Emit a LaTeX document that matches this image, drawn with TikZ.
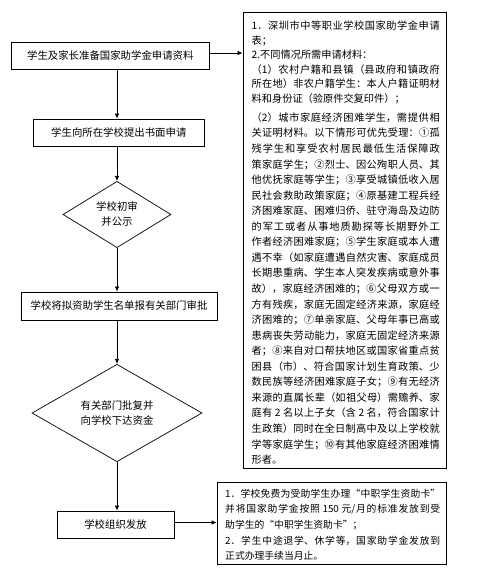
\documentclass[tikz,border=0pt]{standalone}
\usepackage{fontspec}
\setmainfont{Noto Sans CJK SC}
\usetikzlibrary{shapes.geometric,arrows.meta}
\XeTeXlinebreaklocale "zh"
\XeTeXlinebreakskip=0pt plus 2pt
\tikzset{
  box/.style={draw, line width=0.8pt, minimum height=27pt, inner sep=0pt, font=\fontsize{10.4}{14}\selectfont},
  dia/.style={draw, diamond, line width=0.7pt, inner sep=0pt, align=center, font=\fontsize{10.4}{15}\selectfont},
  arr/.style={line width=0.7pt, -{Latex[length=5pt,width=4.5pt]}},
  panel/.style={draw, line width=0.8pt, inner sep=0pt},
  para/.style={anchor=base west, inner sep=0pt, align=justify}
}
\begin{document}
\begin{tikzpicture}[x=1pt,y=-1pt]
\useasboundingbox (0,0) rectangle (480,580);
\coordinate (axis) at (117,0);
\coordinate (h1) at (0,53);
\coordinate (h2) at (0,522.5);
% left column
\node[box, minimum width=198pt] (b1) at (110.3,55.8) {学生及家长准备国家助学金申请资料};
\node[box, minimum width=171pt] (b2) at (118.8,132.5) {学生向所在学校提出书面申请};
\node[dia, minimum width=108pt, minimum height=61pt] (d1) at (117,214.5) {学校初审\\并公示};
\node[box, minimum width=196pt, minimum height=28pt] (b3) at (119,306) {学校将拟资助学生名单报有关部门审批};
\node[dia, minimum width=170pt, minimum height=70pt] (d2) at (117,413) {有关部门批复并\\向学校下达资金};
\node[box, minimum width=117pt] (b4) at (115.5,524.5) {学校组织发放};
% right panels
\node[panel, minimum width=203pt, minimum height=456pt] (r1) at (344.5,240) {};
\node[panel, minimum width=229pt, minimum height=82pt] (r2) at (331.5,523) {};
\node[para, text width=188pt, font=\fontsize{10.2}{14.6}\selectfont] (t1) at (251.5,29.5) {\parindent=0pt\tolerance=9999
1．深圳市中等职业学校国家助学金申请\linebreak 表；\par
2.不同情况所需申请材料：\par
（1）农村户籍和县镇（县政府和镇政府\linebreak 所在地）非农户籍学生：本人户籍证明材\linebreak 料和身份证（验原件交复印件）；\par
\vskip3.4pt\baselineskip=15.55pt
（2）城市家庭经济困难学生，需提供相\linebreak 关证明材料。以下情形可优先受理：①孤\linebreak 残学生和享受农村居民最低生活保障政\linebreak 策家庭学生；②烈士、因公殉职人员、其\linebreak 他优抚家庭等学生；③享受城镇低收入居\linebreak 民社会救助政策家庭；④原基建工程兵经\linebreak 济困难家庭、困难归侨、驻守海岛及边防\linebreak 的军工或者从事地质勘探等长期野外工\linebreak 作者经济困难家庭；⑤学生家庭或本人遭\linebreak 遇不幸（如家庭遭遇自然灾害、家庭成员\linebreak 长期患重病、学生本人突发疾病或意外事\linebreak 故），家庭经济困难的；⑥父母双方或一\linebreak 方有残疾，家庭无固定经济来源，家庭经\linebreak 济困难的；⑦单亲家庭、父母年事已高或\linebreak 患病丧失劳动能力，家庭无固定经济来源\linebreak 者；⑧来自对口帮扶地区或国家省重点贫\linebreak 困县（市）、符合国家计划生育政策、少\linebreak 数民族等经济困难家庭子女；⑨有无经济\linebreak 来源的直属长辈（如祖父母）需赡养、家\linebreak 庭有 2 名以上子女（含 2 名，符合国家计\linebreak 生政策）同时在全日制高中及以上学校就\linebreak 学等家庭学生；⑩有其他家庭经济困难情\linebreak 形者。\par};
\node[para, text width=215pt, font=\fontsize{9.8}{15.7}\selectfont] (t2) at (225,497) {\parindent=0pt\tolerance=9999
1．学校免费为受助学生办理“中职学生资助卡”\linebreak 并将国家助学金按照 150 元/月的标准发放到受\linebreak 助学生的“中职学生资助卡”；\par
2．学生中途退学、休学等，国家助学金发放到\linebreak 正式办理手续当月止。\par};
% connectors
\draw[arr] (b1.south -| axis) -- (b2.north -| axis);
\draw[arr] (b2.south -| axis) -- (d1.north);
\draw[arr] (d1.south) -- (b3.north -| axis);
\draw[arr] (b3.south -| axis) -- (d2.north);
\draw[arr] (d2.south) -- (b4.north -| axis);
\draw[arr] (b1.east |- h1) -- (r1.west |- h1);
\draw[arr] (b4.east |- h2) -- (r2.west |- h2);
\end{tikzpicture}
\end{document}
